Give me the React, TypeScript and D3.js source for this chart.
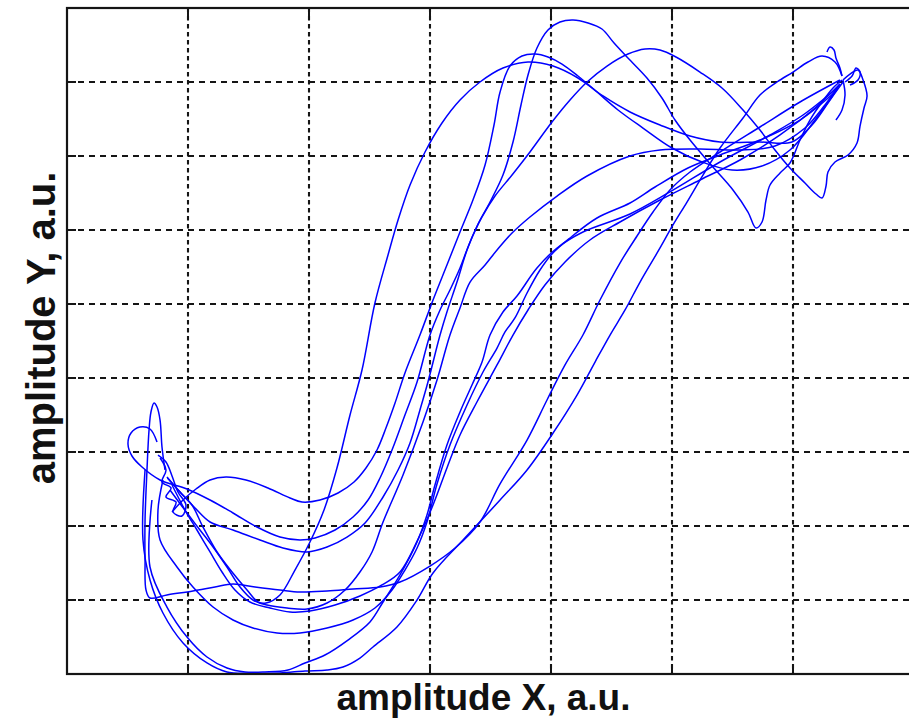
import React from 'react';
import * as d3 from 'd3';

type P = [number, number];

const xTicks = [0, 1, 2, 3, 4, 5, 6, 7];
const yTicks = [0, 1, 2, 3, 4, 5, 6, 7, 8, 9];
const xLabel = 'amplitude X, a.u.';
const yLabel = 'amplitude Y, a.u.';

const strandA1: P[] = [
  [0.83, 2.65], [0.934, 2.459], [1.033, 2.284], [1.124, 1.986], [1.24, 1.649], [1.364, 1.378],
  [1.488, 1.135], [1.579, 0.973], [1.645, 0.959], [1.76, 1.068], [1.884, 1.405], [2.008, 1.784],
  [2.124, 2.216], [2.231, 2.784], [2.339, 3.5], [2.438, 4.108], [2.545, 5.014], [2.653, 5.662],
  [2.736, 6.135], [2.835, 6.608], [2.959, 7.054], [3.099, 7.446], [3.248, 7.757], [3.413, 8.0],
  [3.603, 8.189], [3.81, 8.27], [4.017, 8.216], [4.223, 8.054], [4.43, 7.811], [4.653, 7.595],
  [4.901, 7.419], [5.149, 7.27], [5.397, 7.189], [5.727, 7.189], [5.992, 7.189], [6.157, 7.419],
  [6.306, 7.757], [6.413, 8.0],
];

const strandA2: P[] = [
  [0.868, 2.189], [0.959, 2.351], [1.066, 2.5], [1.182, 2.622], [1.314, 2.662], [1.479, 2.622],
  [1.661, 2.514], [1.843, 2.378], [1.942, 2.324], [2.091, 2.351], [2.24, 2.446], [2.372, 2.595],
  [2.471, 2.784], [2.562, 3.027], [2.636, 3.324], [2.711, 3.662], [2.793, 4.068], [2.917, 4.581],
  [3.025, 5.054], [3.14, 5.527], [3.248, 5.973], [3.355, 6.405], [3.455, 6.878], [3.529, 7.419],
  [3.579, 7.865], [3.661, 8.216], [3.76, 8.351], [3.868, 8.378], [3.975, 8.338], [4.091, 8.243],
  [4.223, 8.081], [4.38, 7.865], [4.554, 7.622], [4.76, 7.378], [5.0, 7.108], [5.248, 6.919],
  [5.496, 6.811], [5.744, 6.865], [5.975, 7.081], [6.182, 7.486], [6.372, 7.919],
];

const strandA3: P[] = [
  [0.826, 2.662], [0.934, 2.459], [1.058, 2.243], [1.182, 2.054], [1.372, 1.946], [1.595, 1.811],
  [1.785, 1.703], [1.983, 1.649], [2.149, 1.716], [2.314, 1.851], [2.463, 2.041], [2.612, 2.392],
  [2.736, 2.757], [2.835, 3.122], [2.917, 3.568], [2.983, 3.946], [3.083, 4.581], [3.14, 4.892],
  [3.223, 5.297], [3.306, 5.73], [3.397, 6.081], [3.496, 6.378], [3.603, 6.743], [3.686, 7.189],
  [3.752, 7.689], [3.81, 8.095], [3.884, 8.459], [3.975, 8.703], [4.074, 8.811], [4.182, 8.838],
  [4.306, 8.797], [4.421, 8.716], [4.521, 8.527], [4.636, 8.324], [4.793, 8.054], [4.917, 7.784],
  [5.025, 7.486], [5.149, 7.216], [5.331, 6.865], [5.504, 6.541], [5.628, 6.243], [5.694, 6.027],
  [5.744, 6.108], [5.777, 6.405], [5.81, 6.608], [5.893, 6.77], [5.975, 6.905], [6.058, 7.216],
  [6.14, 7.486], [6.24, 7.73], [6.331, 7.919], [6.405, 8.027],
];

const strandA4: P[] = [
  [0.744, 3.135], [0.686, 3.311], [0.603, 3.338], [0.529, 3.257], [0.504, 3.108], [0.537, 2.946],
  [0.62, 2.797], [0.769, 2.622], [0.992, 2.5], [1.182, 2.351], [1.372, 2.176], [1.57, 1.986],
  [1.76, 1.851], [1.926, 1.811], [2.05, 1.838], [2.215, 1.946], [2.364, 2.122], [2.488, 2.351],
  [2.587, 2.649], [2.686, 3.027], [2.793, 3.5], [2.893, 3.946], [3.0, 4.581], [3.083, 4.919],
  [3.165, 5.189], [3.248, 5.486], [3.331, 5.838], [3.43, 6.176], [3.537, 6.459], [3.678, 6.743],
  [3.826, 7.054], [4.008, 7.459], [4.157, 7.757], [4.298, 8.0], [4.463, 8.216], [4.636, 8.378],
  [4.777, 8.446], [4.901, 8.432], [5.033, 8.338], [5.231, 8.135], [5.413, 7.919], [5.587, 7.622],
  [5.727, 7.351], [5.851, 7.081], [5.975, 6.838], [6.099, 6.635], [6.19, 6.486], [6.24, 6.432],
  [6.273, 6.595], [6.289, 6.784], [6.347, 6.919], [6.455, 7.014], [6.529, 7.176], [6.554, 7.405],
  [6.587, 7.649], [6.612, 7.811], [6.579, 8.027], [6.537, 8.162], [6.471, 8.108], [6.413, 8.027],
];

const strandB1: P[] = [
  [0.851, 2.486], [0.992, 2.176], [1.099, 1.946], [1.207, 1.716], [1.322, 1.446], [1.43, 1.176],
  [1.537, 1.0], [1.653, 0.932], [1.818, 0.892], [1.983, 0.878], [2.149, 0.959], [2.298, 1.135],
  [2.421, 1.378], [2.521, 1.649], [2.612, 2.054], [2.777, 2.689], [2.942, 3.405], [3.058, 3.973],
  [3.165, 4.581], [3.248, 4.946], [3.331, 5.297], [3.455, 5.527], [3.554, 5.73], [3.678, 5.959],
  [3.826, 6.176], [4.05, 6.459], [4.298, 6.73], [4.653, 7.0], [4.901, 7.081], [5.231, 7.095],
  [5.562, 7.081], [5.851, 7.135], [6.099, 7.378], [6.264, 7.689], [6.388, 7.973],
];

const strandB2: P[] = [
  [0.793, 2.622], [0.752, 2.216], [0.769, 1.811], [0.909, 1.446], [1.041, 1.176], [1.207, 0.905],
  [1.372, 0.73], [1.537, 0.622], [1.736, 0.554], [1.926, 0.554], [2.149, 0.622], [2.364, 0.73],
  [2.545, 0.892], [2.686, 1.135], [2.793, 1.405], [2.893, 1.703], [2.975, 2.054], [3.058, 2.568],
  [3.165, 3.095], [3.306, 3.635], [3.438, 4.081], [3.554, 4.405], [3.62, 4.622], [3.702, 4.811],
  [3.802, 5.149], [3.909, 5.459], [4.008, 5.676], [4.157, 5.892], [4.38, 6.162], [4.653, 6.365],
  [4.86, 6.581], [5.132, 6.838], [5.397, 7.014], [5.727, 7.216], [6.058, 7.486], [6.347, 7.865],
];

const strandB3: P[] = [
  [0.702, 2.351], [0.686, 1.446], [0.826, 0.905], [0.992, 0.5], [1.157, 0.23], [1.322, 0.081],
  [1.471, 0.027], [1.636, 0.027], [1.826, 0.054], [1.967, 0.149], [2.132, 0.257], [2.322, 0.459],
  [2.504, 0.703], [2.612, 0.973], [2.752, 1.338], [2.893, 1.784], [2.975, 2.149], [3.041, 2.554],
  [3.14, 3.095], [3.248, 3.541], [3.347, 3.905], [3.43, 4.216], [3.496, 4.581], [3.603, 4.892],
  [3.719, 5.108], [3.884, 5.486], [4.05, 5.757], [4.264, 5.973], [4.653, 6.216], [4.983, 6.514],
  [5.397, 6.919], [5.81, 7.284], [6.083, 7.554], [6.364, 7.919],
];

const strandB4: P[] = [
  [0.645, 2.757], [0.628, 1.811], [0.686, 1.27], [0.793, 0.824], [0.959, 0.419], [1.157, 0.149],
  [1.322, 0.027], [1.512, 0.01], [1.76, 0.014], [1.967, 0.041], [2.149, 0.054], [2.281, 0.095],
  [2.421, 0.216], [2.529, 0.365], [2.727, 0.635], [2.893, 1.0], [3.025, 1.365], [3.273, 1.811],
  [3.579, 2.351], [3.802, 2.757], [4.017, 3.257], [4.215, 3.77], [4.364, 4.216], [4.488, 4.581],
  [4.612, 4.919], [4.736, 5.297], [4.901, 5.757], [5.008, 6.068], [5.124, 6.378], [5.256, 6.743],
  [5.397, 7.108], [5.587, 7.514], [5.727, 7.824], [5.868, 8.0], [6.0, 8.135], [6.124, 8.27],
  [6.24, 8.351], [6.347, 8.27], [6.405, 8.081],
];

const strandB5: P[] = [
  [0.81, 2.757], [0.785, 3.068], [0.769, 3.432], [0.744, 3.608], [0.719, 3.662], [0.694, 3.541],
  [0.678, 3.297], [0.661, 2.757], [0.645, 2.081], [0.645, 1.541], [0.653, 1.135], [0.686, 1.027],
  [0.826, 1.068], [1.041, 1.122], [1.223, 1.176], [1.372, 1.216], [1.554, 1.176], [1.76, 1.135],
  [1.926, 1.108], [2.149, 1.122], [2.364, 1.149], [2.587, 1.176], [2.752, 1.243], [3.0, 1.459],
  [3.207, 1.703], [3.413, 2.054], [3.579, 2.568], [3.802, 3.162], [3.967, 3.703], [4.116, 4.176],
  [4.264, 4.581], [4.405, 5.054], [4.57, 5.554], [4.711, 5.919], [4.843, 6.243], [4.983, 6.541],
  [5.149, 6.784], [5.397, 7.054], [5.727, 7.392], [6.058, 7.73], [6.388, 8.027],
];

const strandB6: P[] = [
  [0.868, 2.554], [0.975, 2.216], [1.074, 1.946], [1.182, 1.649], [1.281, 1.378], [1.388, 1.135],
  [1.512, 0.973], [1.678, 0.892], [1.843, 0.838], [2.008, 0.851], [2.215, 0.932], [2.421, 1.054],
  [2.603, 1.203], [2.752, 1.378], [2.917, 1.878], [3.025, 2.284], [3.14, 2.784], [3.248, 3.23],
  [3.388, 3.676], [3.554, 4.176], [3.686, 4.581], [3.81, 4.919], [3.95, 5.257], [4.116, 5.568],
  [4.322, 5.865], [4.57, 6.108], [4.901, 6.405], [5.231, 6.676], [5.562, 6.946], [5.893, 7.284],
  [6.182, 7.649], [6.388, 7.973],
];

const hookTop: P[] = [
  [6.281, 8.405], [6.306, 8.473], [6.339, 8.432], [6.355, 8.324], [6.388, 8.189], [6.405, 8.081],
];

const spikeRight: P[] = [
  [6.43, 8.0], [6.488, 8.081], [6.521, 8.189], [6.554, 8.135], [6.537, 8.027], [6.471, 7.959],
];

const stemRight: P[] = [
  [6.413, 8.027], [6.43, 7.824], [6.405, 7.622], [6.355, 7.486],
];

const knotLeft: P[] = [
  [0.769, 2.919], [0.818, 2.757], [0.785, 2.595], [0.86, 2.514], [0.818, 2.392], [0.901, 2.324],
  [0.876, 2.189], [0.95, 2.135], [0.983, 2.284], [0.917, 2.459], [0.868, 2.676], [0.818, 2.865],
  [0.752, 2.959],
];

const strands: P[][] = [
  strandA1, strandA2, strandA3, strandA4,
  strandB1, strandB2, strandB3, strandB4, strandB5, strandB6,
  hookTop, spikeRight, stemRight, knotLeft,
];

export default function App() {
  const W = 909;
  const H = 720;
  const x = d3.scaleLinear().domain([0, 7]).range([67, 914]);
  const y = d3.scaleLinear().domain([0, 9]).range([674, 8]);
  const line = d3
    .line<P>()
    .x((d) => x(d[0]))
    .y((d) => y(d[1]))
    .curve(d3.curveCatmullRom.alpha(0.5));

  const x0 = x(0), x1 = x(7), y0 = y(0), y1 = y(9);
  const tick = 9;
  const axisColor = '#151515';
  const font = '"Liberation Sans", Arial, Helvetica, sans-serif';

  return (
    <svg
      width={W}
      height={H}
      style={{ position: 'absolute', left: 0, top: 0, background: '#fff' }}
    >
      <rect x={0} y={0} width={W} height={H} fill="#fff" />
      <defs>
        <clipPath id="plotClip">
          <rect x={x0} y={y1} width={x1 - x0} height={y0 - y1} />
        </clipPath>
      </defs>
      {/* grid */}
      <g>
        {xTicks.slice(1, -1).map((t) => (
          <line
            key={'gx' + t}
            x1={x(t)}
            x2={x(t)}
            y1={y1}
            y2={y0}
            stroke={axisColor}
            strokeWidth={2.1}
            strokeDasharray="4.5,3.5"
          />
        ))}
        {yTicks.slice(1, -1).map((t) => (
          <line
            key={'gy' + t}
            x1={x0}
            x2={x1}
            y1={y(t)}
            y2={y(t)}
            stroke={axisColor}
            strokeWidth={2.2}
            strokeDasharray="6,5"
          />
        ))}
      </g>
      {/* curves */}
      <g clipPath="url(#plotClip)">
        {strands.map((s, i) => (
          <path
            key={'s' + i}
            d={line(s) || ''}
            fill="none"
            stroke="#0000ff"
            strokeWidth={1.5}
            strokeLinejoin="round"
          />
        ))}
      </g>
      {/* ticks */}
      <g stroke={axisColor} strokeWidth={2}>
        {xTicks.map((t) => (
          <g key={'tx' + t}>
            <line x1={x(t)} x2={x(t)} y1={y0} y2={y0 - tick} />
            <line x1={x(t)} x2={x(t)} y1={y1} y2={y1 + tick} />
          </g>
        ))}
        {yTicks.map((t) => (
          <g key={'ty' + t}>
            <line x1={x0} x2={x0 + tick} y1={y(t)} y2={y(t)} />
            <line x1={x1} x2={x1 - tick} y1={y(t)} y2={y(t)} />
          </g>
        ))}
      </g>
      {/* box */}
      <rect
        x={x0}
        y={y1}
        width={x1 - x0}
        height={y0 - y1}
        fill="none"
        stroke={axisColor}
        strokeWidth={2.2}
      />
      {/* labels */}
      <text
        x={(x0 + x1) / 2 - 7}
        y={710}
        textAnchor="middle"
        fontFamily={font}
        fontWeight="bold"
        fontSize={37}
        fill="#111"
      >
        {xLabel}
      </text>
      <text
        transform={`translate(55, ${(y0 + y1) / 2 - 13}) rotate(-90)`}
        textAnchor="middle"
        fontFamily={font}
        fontWeight="bold"
        fontSize={40}
        fill="#111"
      >
        {yLabel}
      </text>
    </svg>
  );
}
